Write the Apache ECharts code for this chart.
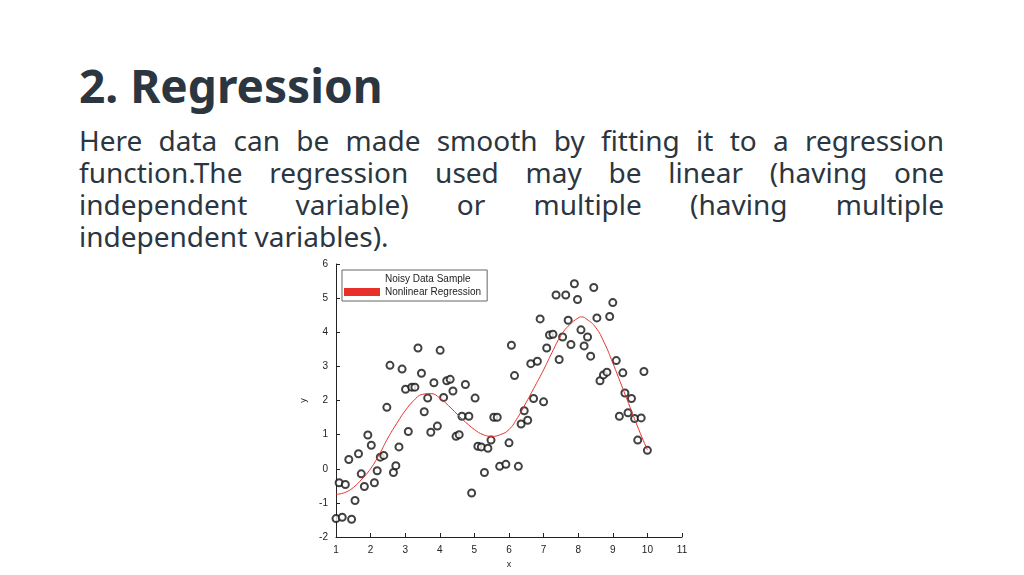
<!DOCTYPE html>
<html><head><meta charset="utf-8">
<script src="https://cdn.jsdelivr.net/npm/echarts@6/dist/echarts.min.js"></script>
<style>
body{margin:0;width:1024px;height:575px;background:#fff;overflow:hidden;position:relative;font-family:"Noto Sans","Open Sans",sans-serif;color:#2b3640}
#title{position:absolute;left:79px;top:55px;font-size:46px;font-weight:bold;line-height:60px}
#para{position:absolute;left:79px;top:124px;width:865px;font-size:28px;line-height:32px}
#para div{text-align:justify;text-align-last:justify;white-space:nowrap}
#para div.last{text-align-last:left}
#chart{position:absolute;left:290px;top:252px;width:420px;height:323px;background:#fff}
</style></head><body>
<div id="title">2. Regression</div>
<div id="para"><div>Here data can be made smooth by fitting it to a regression</div><div>function.The regression used may be linear (having one</div><div>independent variable) or multiple (having multiple</div><div class="last">independent variables).</div></div>
<div id="chart"></div>
<script>
const noisyX=[1.0,1.09,1.18,1.27,1.37,1.45,1.55,1.65,1.73,1.82,1.92,2.02,2.11,2.19,2.28,2.38,2.47,2.56,2.66,2.73,2.82,2.91,3.01,3.09,3.19,3.28,3.37,3.47,3.55,3.65,3.74,3.83,3.93,4.01,4.11,4.2,4.3,4.38,4.47,4.56,4.64,4.74,4.84,4.92,5.02,5.10,5.2,5.29,5.39,5.48,5.56,5.66,5.73,5.91,6.0,6.07,6.16,6.27,6.35,6.44,6.54,6.63,6.71,6.82,6.9,7.0,7.09,7.17,7.27,7.36,7.45,7.55,7.64,7.71,7.79,7.89,7.98,8.08,8.17,8.27,8.36,8.45,8.54,8.63,8.73,8.83,8.91,9.0,9.1,9.19,9.29,9.35,9.44,9.54,9.63,9.72,9.82,9.9,10.0];
const noisyY=[-1.46,-0.41,-1.42,-0.46,0.27,-1.48,-0.93,0.44,-0.15,-0.52,0.99,0.69,-0.41,-0.06,0.34,0.39,1.8,3.03,-0.11,0.09,0.64,2.92,2.33,1.09,2.39,2.39,3.54,2.8,1.67,2.07,1.07,2.52,1.25,3.47,2.09,2.58,2.62,2.28,0.95,1.0,1.54,2.47,1.54,-0.71,2.07,0.66,0.64,-0.11,0.6,0.84,1.51,1.51,0.07,0.13,0.76,3.62,2.73,0.07,1.31,1.7,1.42,3.08,2.06,3.15,4.39,1.96,3.54,3.92,3.94,5.09,3.2,3.86,5.09,4.35,3.64,5.42,4.96,4.07,3.6,3.86,3.3,5.31,4.42,2.58,2.75,2.83,4.46,4.87,3.17,1.54,2.81,2.22,1.64,2.06,1.47,0.84,1.49,2.85,0.54];
const fitX=[1,1.25,1.5,1.75,2,2.25,2.5,2.75,3,3.25,3.5,3.75,4,4.25,4.5,4.75,5,5.25,5.5,5.75,6,6.25,6.5,6.75,7,7.25,7.5,7.75,8,8.1,8.25,8.5,8.75,9,9.25,9.5,9.75,10];
const fitY=[-0.75,-0.7,-0.55,-0.3,0,0.42,0.9,1.32,1.7,2.0,2.18,2.2,2.07,1.85,1.6,1.36,1.15,1.0,0.95,1.0,1.15,1.5,1.95,2.42,2.9,3.42,3.9,4.22,4.42,4.45,4.38,4.15,3.7,3.1,2.45,1.8,1.15,0.55];
const c=echarts.init(document.getElementById('chart'));
const ax={axisLine:{onZero:false,lineStyle:{color:'#222'}},axisTick:{inside:true,length:4,lineStyle:{color:'#222'}},axisLabel:{color:'#222',fontSize:10,fontFamily:'Liberation Sans'},splitLine:{show:false},nameTextStyle:{color:'#222',fontSize:9}};
c.setOption({animation:false,
grid:{left:46,right:28,top:12,bottom:38},
legend:{orient:'vertical',left:52,top:18,itemGap:3,itemWidth:36,itemHeight:8,padding:[4,6,4,2],borderColor:'#666',borderWidth:1,backgroundColor:'#fff',textStyle:{fontSize:10,color:'#222',fontFamily:'Liberation Sans'},
 data:[{name:'Noisy Data Sample',icon:'emptyCircle',itemStyle:{color:'#fff',borderColor:'#111',borderWidth:1}},{name:'Nonlinear Regression',icon:'rect',itemStyle:{color:'#e8302b'}}]},
xAxis:Object.assign({type:'value',min:1,max:11,interval:1,name:'x',nameLocation:'middle',nameGap:16},ax),
yAxis:Object.assign({type:'value',min:-2,max:6,interval:1,name:'y',nameLocation:'middle',nameGap:20},ax),
series:[
{name:'Noisy Data Sample',type:'scatter',symbol:'emptyCircle',symbolSize:7,itemStyle:{color:'#111',borderColor:'#111',borderWidth:1},data:noisyX.map((x,i)=>[x,noisyY[i]])},
{name:'Nonlinear Regression',type:'line',smooth:true,showSymbol:false,lineStyle:{color:'#e8302b',width:1},itemStyle:{color:'#e8302b'},data:fitX.map((x,i)=>[x,fitY[i]])}
]});
</script></body></html>
